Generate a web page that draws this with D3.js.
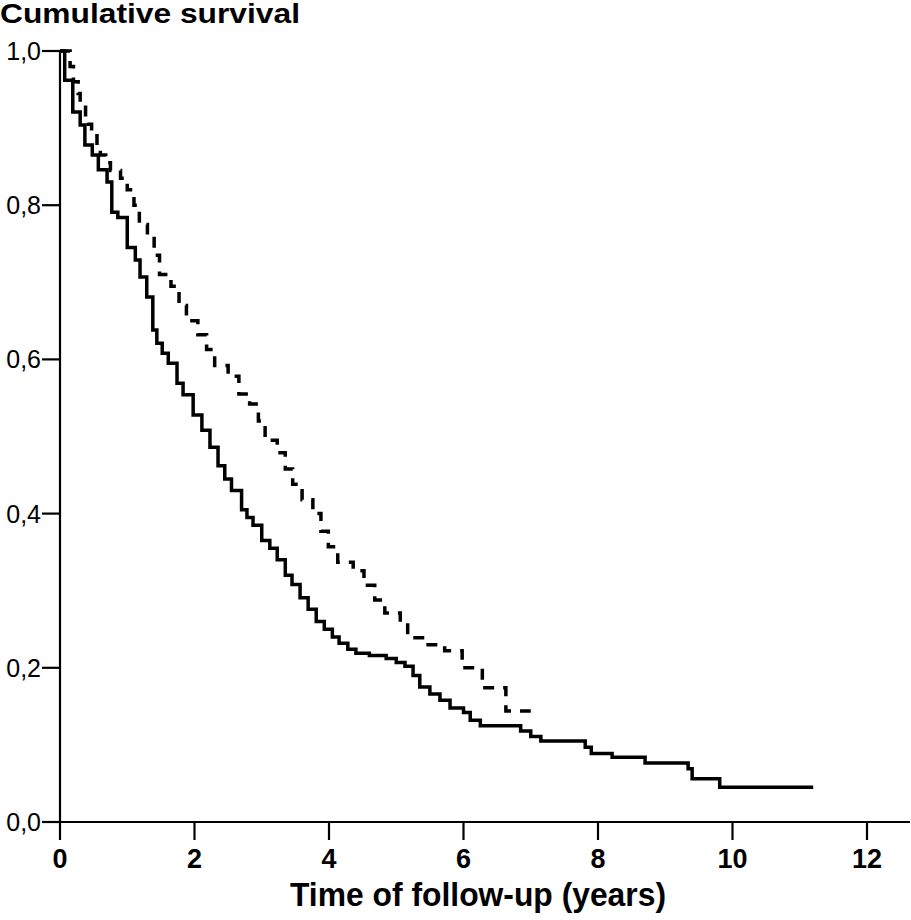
<!DOCTYPE html>
<html>
<head>
<meta charset="utf-8">
<script src="https://cdn.jsdelivr.net/npm/d3@7/dist/d3.min.js"></script>
<style>
html,body{margin:0;padding:0;background:#fff;}
svg{display:block;}
text{font-family:"Liberation Sans",Arial,sans-serif;fill:#000;}
</style>
</head>
<body>
<svg id="chart" width="911" height="920"></svg>
<script>
// ---- data ----
const xTicks = [0, 2, 4, 6, 8, 10, 12];
const yTicks = [0, 0.2, 0.4, 0.6, 0.8, 1.0];
const yTickLabels = ["0,0", "0,2", "0,4", "0,6", "0,8", "1,0"];

// solid group: step times (years) and survival after each step
const solidTime = [0, 0.07, 0.19, 0.30, 0.37, 0.48, 0.57, 0.70, 0.77, 0.86, 1.00, 1.12, 1.19, 1.29, 1.38, 1.44, 1.52, 1.61, 1.74, 1.83, 1.98, 2.11, 2.23, 2.35, 2.45, 2.55, 2.70, 2.78, 2.87, 3.00, 3.12, 3.23, 3.35, 3.45, 3.57, 3.69, 3.81, 3.93, 4.05, 4.15, 4.28, 4.40, 4.60, 4.85, 5.00, 5.13, 5.25, 5.35, 5.50, 5.65, 5.80, 6.00, 6.10, 6.25, 6.85, 7.00, 7.15, 7.81, 7.90, 8.21, 8.70, 9.34, 9.40, 9.81, 11.2];
const solidSurv = [1.0, 0.962, 0.921, 0.904, 0.878, 0.865, 0.846, 0.830, 0.791, 0.784, 0.745, 0.729, 0.707, 0.681, 0.638, 0.621, 0.608, 0.595, 0.569, 0.554, 0.528, 0.508, 0.486, 0.462, 0.445, 0.430, 0.405, 0.395, 0.385, 0.365, 0.355, 0.340, 0.320, 0.308, 0.291, 0.276, 0.260, 0.250, 0.240, 0.232, 0.224, 0.219, 0.216, 0.212, 0.207, 0.202, 0.190, 0.175, 0.166, 0.158, 0.148, 0.142, 0.132, 0.125, 0.118, 0.111, 0.105, 0.097, 0.089, 0.084, 0.0765, 0.069, 0.056, 0.045, 0.045];

// dashed group
const dashedTime = [0, 0.15, 0.20, 0.27, 0.30, 0.38, 0.42, 0.47, 0.55, 0.60, 0.68, 0.75, 0.90, 1.00, 1.10, 1.18, 1.30, 1.40, 1.48, 1.65, 1.77, 1.88, 2.05, 2.18, 2.30, 2.50, 2.66, 2.82, 2.95, 3.05, 3.23, 3.35, 3.46, 3.60, 3.76, 3.88, 3.99, 4.13, 4.36, 4.52, 4.68, 4.83, 5.06, 5.17, 5.43, 5.72, 5.98, 6.28, 6.63, 7.00];
const dashedSurv = [1.0, 0.980, 0.960, 0.945, 0.930, 0.915, 0.905, 0.890, 0.875, 0.865, 0.855, 0.845, 0.835, 0.820, 0.800, 0.775, 0.760, 0.735, 0.710, 0.695, 0.670, 0.650, 0.632, 0.613, 0.592, 0.578, 0.555, 0.542, 0.520, 0.495, 0.479, 0.458, 0.438, 0.418, 0.400, 0.377, 0.357, 0.337, 0.326, 0.307, 0.288, 0.271, 0.258, 0.239, 0.230, 0.222, 0.200, 0.174, 0.144, 0.144];

const yTitle = "Cumulative survival";
const xTitle = "Time of follow-up (years)";

// ---- chart ----
const svg = d3.select("#chart");
const x = d3.scaleLinear().domain([0, 12]).range([60, 867]);
const y = d3.scaleLinear().domain([0, 1]).range([822, 51]);

// x axis
const xAxis = svg.append("g").attr("transform", `translate(0,${y(0)})`);
xAxis.append("line").attr("x1", x(0)).attr("x2", 910).attr("y1", 0).attr("y2", 0)
  .attr("stroke", "#000").attr("stroke-width", 2.2);
xAxis.selectAll("line.tick").data(xTicks).enter().append("line")
  .attr("class", "tick")
  .attr("x1", d => x(d)).attr("x2", d => x(d)).attr("y1", 0).attr("y2", 18)
  .attr("stroke", "#000").attr("stroke-width", 2.2);
xAxis.selectAll("text").data(xTicks).enter().append("text")
  .attr("x", d => x(d)).attr("y", 46)
  .attr("text-anchor", "middle")
  .style("font-size", "27px").style("font-weight", "bold")
  .text(d => d);

// y axis
const yAxis = svg.append("g").attr("transform", `translate(${x(0)},0)`);
yAxis.append("line").attr("x1", 0).attr("x2", 0).attr("y1", y(0)).attr("y2", y(1))
  .attr("stroke", "#000").attr("stroke-width", 2.2);
yAxis.selectAll("line.tick").data(yTicks).enter().append("line")
  .attr("class", "tick")
  .attr("x1", -18).attr("x2", 0).attr("y1", d => y(d)).attr("y2", d => y(d))
  .attr("stroke", "#000").attr("stroke-width", 2.2);
yAxis.selectAll("text").data(yTicks).enter().append("text")
  .attr("x", -19).attr("y", d => y(d) + 9)
  .attr("text-anchor", "end")
  .style("font-size", "25px")
  .text((d, i) => yTickLabels[i]);

// curves
const line = d3.line().x(d => x(d[0])).y(d => y(d[1])).curve(d3.curveStepAfter);
const solidData = solidTime.map((t, i) => [t, solidSurv[i]]);
const dashedData = dashedTime.map((t, i) => [t, dashedSurv[i]]);

svg.append("path").datum(dashedData).attr("d", line)
  .attr("fill", "none").attr("stroke", "#000").attr("stroke-width", 3.5)
  .attr("stroke-dasharray", "11,9");
svg.append("path").datum(solidData).attr("d", line)
  .attr("fill", "none").attr("stroke", "#000").attr("stroke-width", 3.5);

// titles
svg.append("text").attr("x", 0).attr("y", 23)
  .style("font-size", "27px").style("font-weight", "bold")
  .attr("textLength", 300).attr("lengthAdjust", "spacingAndGlyphs")
  .text(yTitle);
svg.append("text").attr("x", 478).attr("y", 906)
  .attr("text-anchor", "middle")
  .style("font-size", "34px").style("font-weight", "bold")
  .attr("textLength", 376).attr("lengthAdjust", "spacingAndGlyphs")
  .text(xTitle);
</script>
</body>
</html>
